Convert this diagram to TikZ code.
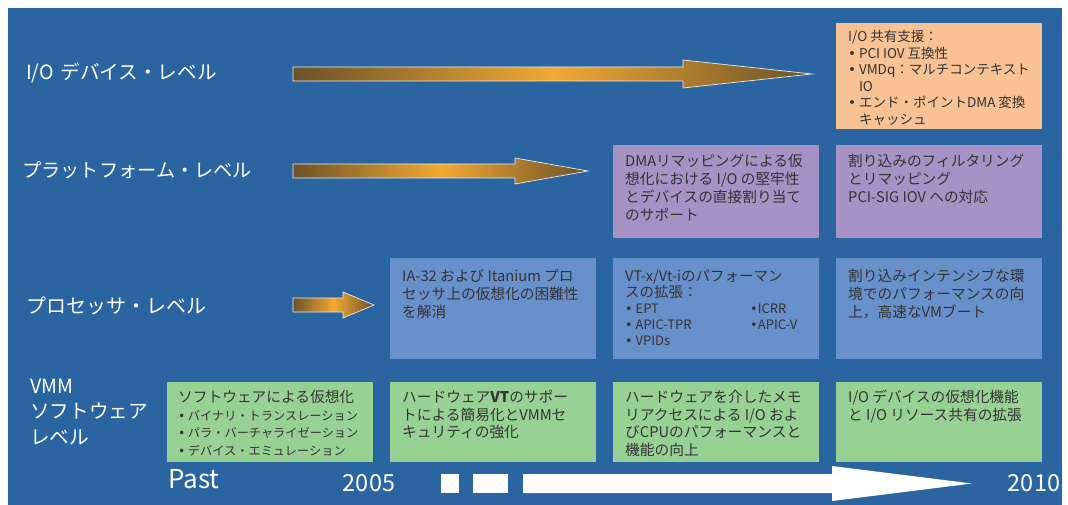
\documentclass[tikz,border=0pt]{standalone}
\usepackage{fontspec}
\setmainfont{Noto Sans CJK JP}
\newfontfamily\bulfont{DejaVu Sans}
\definecolor{bgblue}{HTML}{2A65A1}
\definecolor{boxorange}{HTML}{F8C294}
\definecolor{boxpurple}{HTML}{A692C5}
\definecolor{boxblue}{HTML}{6890CB}
\definecolor{boxgreen}{HTML}{98D194}
\definecolor{txtgray}{HTML}{333333}
\definecolor{arrbrown}{HTML}{6B5229}
\definecolor{arrorange}{HTML}{F2A933}
\newcommand{\bdot}{{\bulfont •}}
\newcommand{\bul}{\makebox[0.8em][l]{\bdot}}
\newcommand{\ind}{\hspace*{0.8em}}
\begin{document}
\begin{tikzpicture}[x=1pt,y=-1pt,
  box/.style={draw=none,inner sep=0pt,anchor=north west,minimum width=206pt},
  txt/.style={anchor=north west,inner sep=0pt,align=left,text=txtgray,font=\fontsize{14.7}{18}\selectfont},
  smalltxt/.style={txt,font=\fontsize{13.5}{16.6}\selectfont},
  lvl/.style={anchor=west,inner sep=0pt,text=white,font=\fontsize{19.6}{25.5}\selectfont,align=left},
  year/.style={inner sep=0pt,text=white,font=\fontsize{23.5}{26}\selectfont},
  goldarrow/.style={left color=arrbrown,right color=arrbrown,middle color=arrorange,draw=white!85!gray,line width=0.7pt},
  whitearrow/.style={fill=white,draw=none}]
\useasboundingbox (0,0) rectangle (1068,505);
\fill[bgblue] (8,8) rectangle (1062,505);

% level labels
\node[lvl] (lio) at (26,73) {I/O\,\,デバイス・レベル};
\node[lvl,font=\fontsize{19.2}{25.5}\selectfont] (lpf) at (22,170) {プラットフォーム・レベル};
\node[lvl,font=\fontsize{20}{25.5}\selectfont] (lpr) at (26,306) {プロセッサ・レベル};
\node[lvl] (lvmm) at (30,412) {VMM\\ソフトウェア\\レベル};

% gold arrows
\path[goldarrow] (293,67) -- (683,67) -- (683,60) -- (812,74) -- (683,88) -- (683,81) -- (293,81) -- cycle;
\path[goldarrow] (293,164) -- (515,164) -- (515,158) -- (588,171) -- (515,184) -- (515,178) -- (293,178) -- cycle;
\path[goldarrow] (293,298) -- (343,298) -- (343,292) -- (374,305) -- (343,318) -- (343,312) -- (293,312) -- cycle;

% I/O level box
\node[box,fill=boxorange,minimum height=106pt] (bio) at (836,23) {};
\node[smalltxt] (tio) at ([xshift=12pt,yshift=-7pt]bio.north west)
 {I/O 共有支援：\\
  \bul PCI IOV 互換性\\
  \bul VMDq：マルチコンテキスト\\
  \ind IO\\
  \bul エンド・ポイントDMA 変換\\
  \ind キャッシュ};

% platform level boxes
\node[box,fill=boxpurple,minimum height=93pt] (bpf1) at (613,145) {};
\node[txt] (tpf1) at ([xshift=12pt,yshift=-9pt]bpf1.north west)
 {DMAリマッピングによる仮\\想化における I/O の堅牢性\\とデバイスの直接割り当て\\のサポート};
\node[box,fill=boxpurple,minimum height=93pt] (bpf2) at (836,145) {};
\node[txt] (tpf2) at ([xshift=12pt,yshift=-9pt]bpf2.north west)
 {割り込みのフィルタリング\\とリマッピング\\PCI-SIG IOV への対応};

% processor level boxes
\node[box,fill=boxblue,minimum height=101pt] (bpr1) at (390,258) {};
\node[txt] (tpr1) at ([xshift=12pt,yshift=-11pt]bpr1.north west)
 {IA-32 および Itanium プロ\\セッサ上の仮想化の困難性\\を解消};
\node[box,fill=boxblue,minimum height=101pt] (bpr2) at (613,258) {};
\node[txt,font=\fontsize{14.5}{16}\selectfont] (tpr2) at ([xshift=12pt,yshift=-12pt]bpr2.north west)
 {VT-x/Vt-iのパフォーマン\\スの拡張：\\
  {\fontsize{13}{16}\selectfont\makebox[125pt][l]{\bul EPT}\bdot ICRR}\\
  {\fontsize{13}{16}\selectfont\makebox[125pt][l]{\bul APIC-TPR}\bdot APIC-V}\\
  {\fontsize{13}{16}\selectfont\bul VPIDs}};
\node[box,fill=boxblue,minimum height=101pt] (bpr3) at (836,258) {};
\node[txt] (tpr3) at ([xshift=12pt,yshift=-11pt]bpr3.north west)
 {割り込みインテンシブな環\\境でのパフォーマンスの向\\上，高速なVMブート};

% VMM level boxes
\node[box,fill=boxgreen,minimum height=80pt] (bv1) at (167,382) {};
\node[txt,font=\fontsize{14.7}{17.5}\selectfont] (tv1) at ([xshift=11pt,yshift=-8pt]bv1.north west)
 {ソフトウェアによる仮想化\\
  {\fontsize{12.2}{17.5}\selectfont\bul バイナリ・トランスレーション}\\
  {\fontsize{12.2}{17.5}\selectfont\bul パラ・バーチャライゼーション}\\
  {\fontsize{12.2}{17.5}\selectfont\bul デバイス・エミュレーション}};
\node[box,fill=boxgreen,minimum height=80pt] (bv2) at (390,382) {};
\node[txt,font=\fontsize{14.7}{17.5}\selectfont] (tv2) at ([xshift=12pt,yshift=-8pt]bv2.north west)
 {ハードウェア\textbf{VT}のサポー\\トによる簡易化とVMMセ\\キュリティの強化};
\node[box,fill=boxgreen,minimum height=80pt] (bv3) at (613,382) {};
\node[txt,font=\fontsize{14.7}{17.5}\selectfont] (tv3) at ([xshift=12pt,yshift=-8pt]bv3.north west)
 {ハードウェアを介したメモ\\リアクセスによる I/O およ\\びCPUのパフォーマンスと\\機能の向上};
\node[box,fill=boxgreen,minimum height=80pt] (bv4) at (836,382) {};
\node[txt,font=\fontsize{14.7}{17.5}\selectfont] (tv4) at ([xshift=12pt,yshift=-8pt]bv4.north west)
 {I/O デバイスの仮想化機能\\と I/O リソース共有の拡張};

% timeline
\node[year,font=\fontsize{26}{28}\selectfont] (past) at (194,479) {Past};
\node[year] (y2005) at (369,483) {2005};
\node[year] (y2010) at (1034,483) {2010};
\fill[white] (441,474) rectangle (459,493);
\fill[white] (473,474) rectangle (508,493);
\path[whitearrow] (523,474) -- (832,474) -- (832,466) -- (972,483.5) -- (832,501) -- (832,493) -- (523,493) -- cycle;
\end{tikzpicture}
\end{document}
